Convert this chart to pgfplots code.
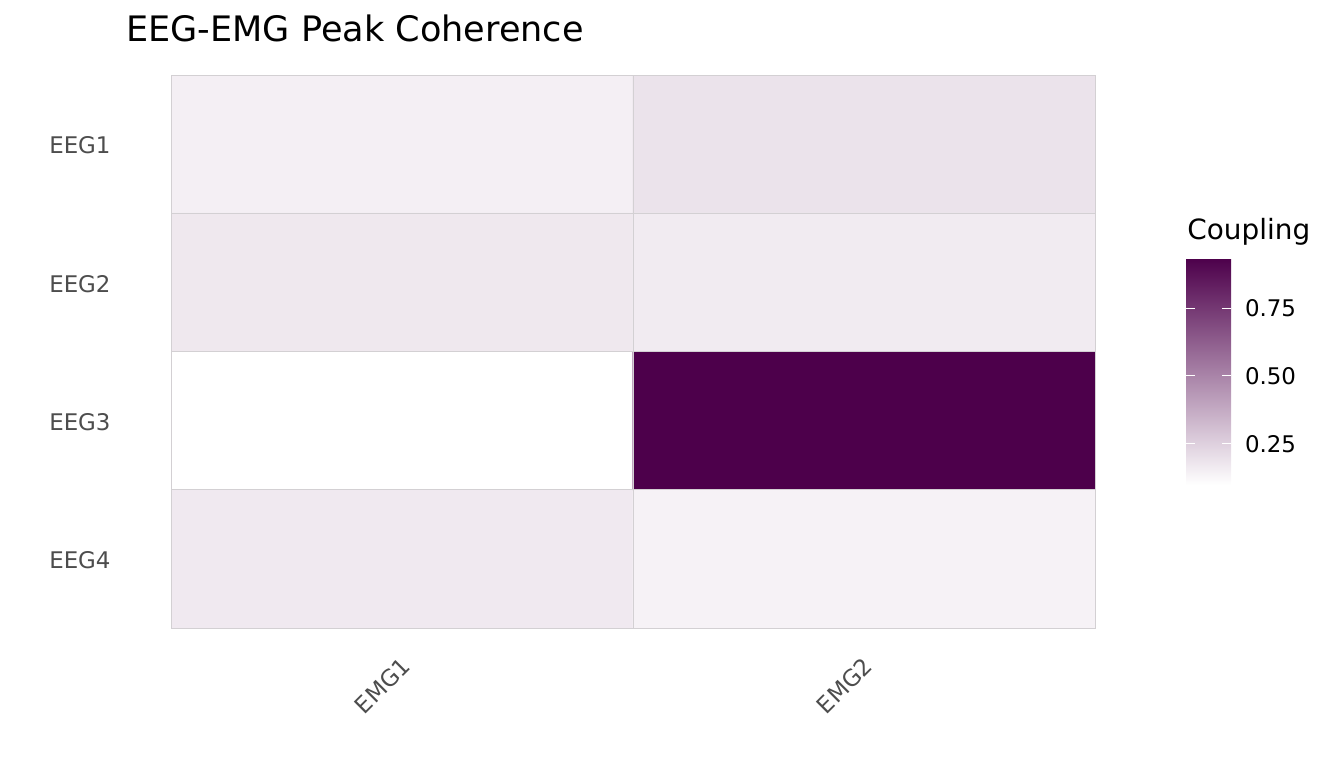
\documentclass[border=0pt]{standalone}
\usepackage{pgfplots}
\pgfplotsset{compat=1.18}
\usepackage{fontspec}
\setmainfont{DejaVu Sans}
\definecolor{darkp}{HTML}{4D004B}
\definecolor{ticktxt}{HTML}{4D4D4D}
\definecolor{cellline}{HTML}{D3D0D3}
\begin{document}
\begin{tikzpicture}
\useasboundingbox (0,0) rectangle (672bp,384bp);
\begin{axis}[
  at={(85.5bp,70bp)}, anchor=south west,
  scale only axis, width=462bp, height=276.5bp,
  xmin=-0.5, xmax=1.5, ymin=-0.5, ymax=3.5,
  y dir=reverse,
  xtick={0,1}, xticklabels={EMG1,EMG2},
  ytick={0,1,2,3}, yticklabels={EEG1,EEG2,EEG3,EEG4},
  minor xtick={0.5}, minor ytick={0.5,1.5,2.5},
  minor grid style={cellline, line width=0.5bp},
  minor tick length=0pt, major tick length=0pt,
  xminorgrids=true, yminorgrids=true,
  axis on top,
  axis line style={cellline, line width=0.5bp},
  tick label style={font=\fontsize{11.5}{13}\selectfont, text=ticktxt},
  yticklabel style={anchor=east, xshift=-26.7bp, yshift=-0.75bp},
  xticklabel style={rotate=45, anchor=north east, xshift=-7.1bp, yshift=-5.7bp},
  colormap={pur}{color(0)=(white) color(1)=(darkp)},
  point meta min=0.099, point meta max=0.934,
  colorbar,
  colorbar/width=22.5bp,
  colorbar style={
    scale only axis, width=22.5bp, height=113.5bp,
    at={(parent axis.south east)}, anchor=south west,
    xshift=37bp, yshift=71.5bp,
    axis line style={draw=none},
    ytick={0.25,0.5,0.75},
    yticklabel style={/pgf/number format/fixed, /pgf/number format/zerofill, /pgf/number format/precision=2, font=\fontsize{11.5}{13}\selectfont, text=black, xshift=3.5bp},
    /pgf/number format/assume math mode=true,
    yticklabel pos=right, ytick pos=both,
    tick align=inside, major tick length=4.5bp,
    major tick style={white, line width=0.5bp},
  },
]
\addplot[matrix plot*, mesh/cols=2, mesh/ordering=x varies, point meta=explicit]
table[meta=C] {
x y C
0 0 0.150
1 0 0.190
0 1 0.175
1 1 0.165
0 2 0.099
1 2 0.934
0 3 0.170
1 3 0.140
};
\end{axis}
\node[anchor=base west, inner sep=0pt, font=\fontsize{14}{16}\selectfont] at (593.5bp,264bp) {Coupling};
\node[anchor=base west, inner sep=0pt, font=\fontsize{17.6}{20}\selectfont] at (63bp,363bp) {EEG-EMG Peak Coherence};
\end{tikzpicture}
\end{document}
